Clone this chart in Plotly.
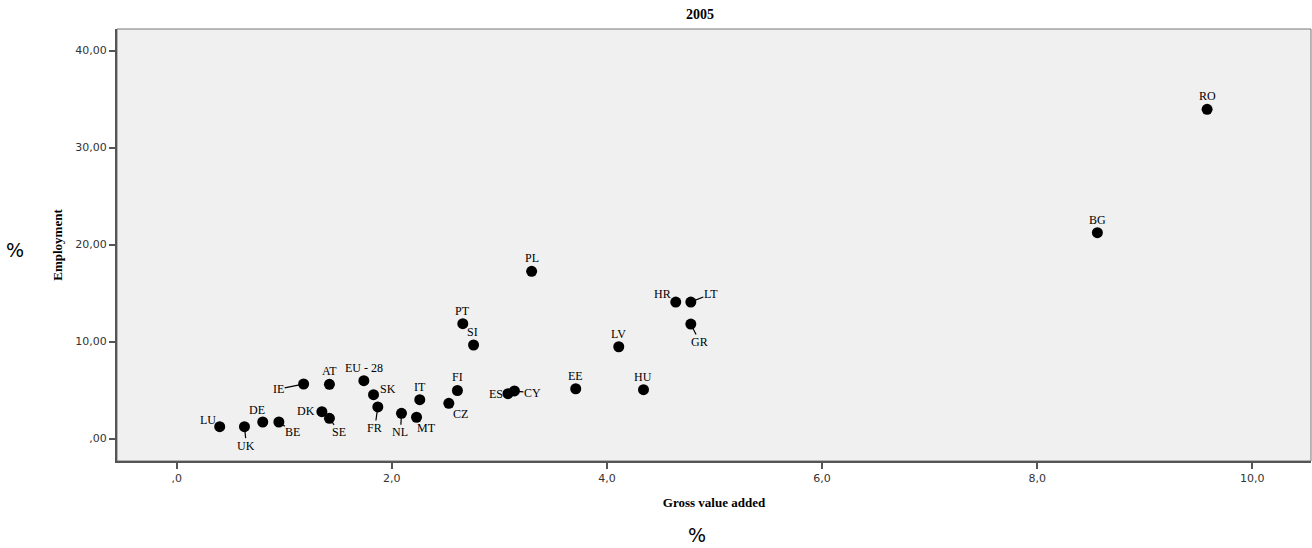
import plotly.graph_objects as go

countries = ["RO", "BG", "PL", "HR", "LT", "GR", "LV", "PT", "SI", "EE", "HU", "FI", "ES", "CY",
             "CZ", "IT", "MT", "NL", "FR", "SK", "EU - 28", "AT", "IE", "DK", "SE", "DE", "BE", "UK", "LU"]
gva = [9.58, 8.56, 3.30, 4.64, 4.78, 4.78, 4.11, 2.66, 2.76, 3.71, 4.34, 2.61, 3.08, 3.14,
       2.53, 2.26, 2.23, 2.09, 1.87, 1.83, 1.74, 1.42, 1.18, 1.35, 1.42, 0.80, 0.95, 0.63, 0.40]
employment = [33.94, 21.22, 17.24, 14.07, 14.07, 11.80, 9.46, 11.84, 9.64, 5.13, 5.03, 4.95, 4.62, 4.90,
              3.63, 4.00, 2.19, 2.60, 3.25, 4.52, 5.96, 5.59, 5.62, 2.76, 2.08, 1.70, 1.70, 1.22, 1.22]

# label offsets in pixels (dx, dy screen; dy positive = down) and whether a leader line is drawn
label_dx = [0, 0, 0, -13, 20, 9, 0, 0, -1, 0, -1, 0, -12, 18,
            12, 0, 10, -1, -3, 14, 0, 0, -25, -16, 10, -6, 14, 2, -12]
label_dy = [-13, -13, -13, -8, -8, 18, -13, -13, -13, -13, -13, -13, 0, 2,
            11, -13, 11, 19, 21, -6, -13, -13, 5, -1, 14, -12, 10, 19, -7]
leader = [False, False, False, True, True, True, False, False, False, False, False, False, True, True,
          True, False, False, True, True, False, False, False, True, False, True, False, True, True, True]

x_ticks = [0, 2, 4, 6, 8, 10]
x_ticktext = [",0", "2,0", "4,0", "6,0", "8,0", "10,0"]
y_ticks = [0, 10, 20, 30, 40]
y_ticktext = [",00", "10,00", "20,00", "30,00", "40,00"]

fig = go.Figure()
fig.add_trace(go.Scatter(
    x=gva, y=employment, mode="markers",
    marker=dict(color="black", size=11, line=dict(width=0)),
    hovertext=countries, showlegend=False,
))

serif = "Liberation Serif, DejaVu Serif, serif"
for name, xv, yv, dx, dy, ld in zip(countries, gva, employment, label_dx, label_dy, leader):
    if ld:
        fig.add_annotation(x=xv, y=yv, text=name, showarrow=True, ax=dx, ay=dy,
                           arrowhead=0, arrowwidth=1.2, arrowcolor="black", standoff=3,
                           font=dict(family=serif, size=12, color="black"), borderpad=0)
    else:
        fig.add_annotation(x=xv, y=yv, text=name, showarrow=False, xshift=dx, yshift=-dy,
                           font=dict(family=serif, size=12, color="black"))

fig.update_layout(
    width=1312, height=548,
    margin=dict(l=117, r=1, t=29, b=87),
    paper_bgcolor="white", plot_bgcolor="#f0f0f0",
    title=dict(text="<b>2005</b>", x=(700) / 1312, xanchor="center", y=1 - 14 / 548, yanchor="middle",
               font=dict(family=serif, size=14, color="black")),
    xaxis=dict(range=[-0.555, 10.546], tickvals=x_ticks, ticktext=x_ticktext,
               showgrid=False, zeroline=False, showline=True, linecolor="#555555", linewidth=2,
               ticks="outside", ticklen=6, tickcolor="#555555", tickwidth=2,
               tickfont=dict(family="DejaVu Sans, sans-serif", size=11, color="#333333"),
               title=dict(text="<b>Gross value added</b>", font=dict(family=serif, size=13, color="black"), standoff=14)),
    yaxis=dict(range=[-2.32, 42.22], tickvals=y_ticks, ticktext=y_ticktext,
               showgrid=False, zeroline=False, showline=True, linecolor="#555555", linewidth=2,
               ticks="outside", ticklen=6, tickcolor="#555555", tickwidth=2,
               tickfont=dict(family="DejaVu Sans, sans-serif", size=11, color="#333333"),
               title=dict(text="<b>Employment</b>", font=dict(family=serif, size=13, color="black"), standoff=10)),
)

plot_w = 1312 - 117 - 1
plot_h = 548 - 29 - 87
fig.add_annotation(x=(15 - 117) / plot_w, y=(461 - 250) / plot_h, xref="paper", yref="paper",
                   xanchor="center", yanchor="middle",
                   text="%", showarrow=False, font=dict(family="DejaVu Sans, sans-serif", size=19, color="black"))
fig.add_annotation(x=(697 - 117) / plot_w, y=(461 - 535) / plot_h, xref="paper", yref="paper",
                   xanchor="center", yanchor="middle", borderpad=0,
                   text="%", showarrow=False, font=dict(family="DejaVu Sans, sans-serif", size=19, color="black"))

# thin frame on top/right
fig.add_shape(type="rect", xref="paper", yref="paper", x0=0, y0=0, x1=1, y1=1,
              line=dict(color="#777777", width=1), layer="below")

fig.write_html("out.html")
